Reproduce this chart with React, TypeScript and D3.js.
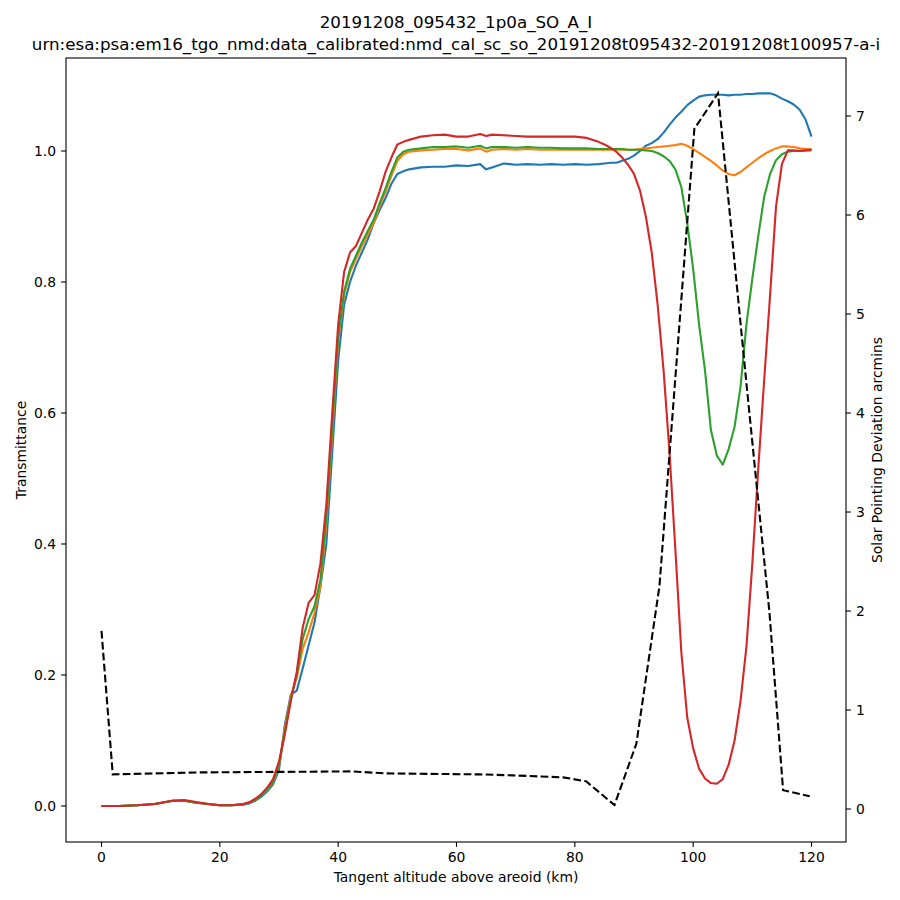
import * as d3 from "d3";
import React from "react";

// tangent altitude grid (km) shared by the four transmittance series
const altitude = [
  0, 3, 6, 9, 12, 14, 16, 18, 20, 22, 24, 25, 26, 27, 28, 29, 30, 31, 32, 33,
  34, 35, 36, 37, 38, 39, 40, 41, 42, 43, 44, 45, 46, 47, 48, 49, 50, 51, 52,
  54, 56, 58, 60, 62, 64, 65, 66, 68, 70, 72, 74, 76, 78, 80, 82, 84, 85, 86,
  87, 88, 89, 90, 91, 92, 93, 94, 95, 96, 97, 98, 99, 100, 101, 102, 103, 104,
  105, 106, 107, 108, 109, 110, 111, 112, 113, 114, 115, 116, 117, 118, 119, 120,
];

const transBlue = [
  0.0, 0.0, 0.001, 0.003, 0.008, 0.008, 0.005, 0.003, 0.001, 0.001, 0.002, 0.004, 0.008, 0.014, 0.022, 0.033,
  0.055, 0.125, 0.17, 0.176, 0.21, 0.245, 0.28, 0.335, 0.4, 0.54, 0.68, 0.765, 0.8, 0.825, 0.845, 0.865, 0.89,
  0.91, 0.928, 0.95, 0.965, 0.969, 0.972,
  0.975, 0.976, 0.976, 0.978, 0.977, 0.98, 0.972, 0.975, 0.981,
  0.979, 0.98, 0.979, 0.98, 0.979, 0.98, 0.979, 0.98,
  0.981, 0.982, 0.982, 0.985, 0.988, 0.993, 1.0, 1.008, 1.012, 1.018,
  1.028, 1.04, 1.051, 1.06, 1.07, 1.077, 1.083, 1.085, 1.086, 1.086,
  1.086, 1.085, 1.086, 1.086, 1.087, 1.087, 1.088, 1.088, 1.088, 1.085,
  1.08, 1.076, 1.071, 1.063, 1.048, 1.022,
];

const transOrange = [
  0.0, 0.0, 0.001, 0.003, 0.008, 0.008, 0.005, 0.003, 0.001, 0.001, 0.003, 0.005, 0.009, 0.016, 0.024, 0.036,
  0.06, 0.12, 0.168, 0.195, 0.24, 0.265, 0.295, 0.335, 0.43, 0.57, 0.71, 0.78, 0.815, 0.835, 0.855, 0.872, 0.89,
  0.915, 0.938, 0.962, 0.985, 0.995, 0.999,
  1.001, 1.002, 1.003, 1.003, 1.001, 1.004, 0.999, 1.002, 1.003,
  1.002, 1.003, 1.002, 1.002, 1.002, 1.002, 1.002, 1.002,
  1.002, 1.002, 1.002, 1.002, 1.002, 1.002, 1.003, 1.004, 1.005, 1.006,
  1.007, 1.008, 1.009, 1.011, 1.008, 1.003, 0.997, 0.991, 0.985, 0.978,
  0.97, 0.965, 0.963, 0.968, 0.975, 0.982, 0.989, 0.995, 1.0, 1.004,
  1.007, 1.007, 1.006, 1.004, 1.003, 1.003,
];

const transGreen = [
  0.0, 0.0, 0.001, 0.003, 0.008, 0.008, 0.005, 0.003, 0.001, 0.001, 0.003, 0.005, 0.009, 0.016, 0.025, 0.037,
  0.062, 0.115, 0.165, 0.2, 0.255, 0.285, 0.305, 0.345, 0.44, 0.58, 0.715, 0.785, 0.82, 0.84, 0.86, 0.878, 0.895,
  0.92, 0.943, 0.968, 0.99, 0.999, 1.002,
  1.004, 1.006, 1.006, 1.007, 1.005, 1.008, 1.004, 1.006, 1.006,
  1.005, 1.006, 1.005, 1.005, 1.004, 1.004, 1.004, 1.003,
  1.003, 1.003, 1.003, 1.003, 1.002, 1.002, 1.002, 1.001, 1.0, 0.997,
  0.992, 0.985, 0.972, 0.945, 0.89, 0.82, 0.735, 0.665, 0.574, 0.535,
  0.521, 0.545, 0.579, 0.64, 0.735, 0.805, 0.87, 0.93, 0.965, 0.986,
  0.995, 0.999, 1.0, 1.0, 1.001, 1.001,
];

const transRed = [
  0.0, 0.0, 0.001, 0.003, 0.008, 0.009, 0.006, 0.003, 0.001, 0.001, 0.003, 0.006, 0.011, 0.018, 0.028, 0.041,
  0.068, 0.11, 0.16, 0.205, 0.272, 0.31, 0.322, 0.37, 0.46, 0.6, 0.735, 0.815, 0.845, 0.855, 0.875, 0.895, 0.912,
  0.938, 0.968, 0.99, 1.01, 1.014, 1.017,
  1.022, 1.024, 1.025, 1.022, 1.022, 1.026, 1.023, 1.025, 1.024,
  1.023, 1.022, 1.022, 1.022, 1.022, 1.022, 1.02, 1.014,
  1.01, 1.005, 0.999, 0.99, 0.979, 0.965, 0.94, 0.9, 0.845, 0.765,
  0.665, 0.54, 0.39, 0.235, 0.135, 0.088, 0.057, 0.042, 0.035, 0.034,
  0.041, 0.063, 0.1, 0.16, 0.243, 0.37, 0.515, 0.65, 0.78, 0.915,
  0.98, 1.001, 1.001, 1.0, 1.001, 1.002,
];

// solar pointing deviation (arcmins), right axis
const pointingAltitude = [0, 1.9, 16.6, 42.4, 48.1, 63.9, 69.5, 78, 81.9, 86.7, 90.4, 94.3, 100.2, 104.2, 109.0, 112.9, 115.2, 119.7];
const pointingDeviation = [1.8, 0.35, 0.37, 0.38, 0.36, 0.35, 0.34, 0.32, 0.28, 0.04, 0.66, 2.25, 6.87, 7.23, 4.3, 1.98, 0.19, 0.13];

const xTicks = [0, 20, 40, 60, 80, 100, 120];
const yTicks = [0.0, 0.2, 0.4, 0.6, 0.8, 1.0];
const y2Ticks = [0, 1, 2, 3, 4, 5, 6, 7];

const seriesList = [
  { values: transBlue, color: "#1f77b4" },
  { values: transOrange, color: "#ff7f0e" },
  { values: transGreen, color: "#2ca02c" },
  { values: transRed, color: "#d62728" },
];

export default function App() {
  const W = 900;
  const H = 900;
  const left = 66;
  const right = 846;
  const top = 58;
  const bottom = 842;
  const font = "DejaVu Sans, sans-serif";

  const x = d3.scaleLinear().domain([-6, 126]).range([left, right + 1]);
  const y = d3.scaleLinear().domain([-0.055, 1.142]).range([bottom, top]);
  const y2 = d3.scaleLinear().domain([-0.333, 7.586]).range([bottom, top]);

  const line = d3
    .line<number>()
    .x((_, i) => x(altitude[i]))
    .y((d) => y(d));

  const pointingLine = d3
    .line<number>()
    .x((_, i) => x(pointingAltitude[i]))
    .y((d) => y2(d));

  return (
    <svg
      width={W}
      height={H}
      style={{ position: "absolute", left: 0, top: 0, background: "#fff" }}
      fontFamily={font}
    >
      <rect width={W} height={H} fill="#fff" />
      <text x={456} y={28} textAnchor="middle" fontSize={16.7}>
        20191208_095432_1p0a_SO_A_I
      </text>
      <text x={456} y={50} textAnchor="middle" fontSize={16.7}>
        urn:esa:psa:em16_tgo_nmd:data_calibrated:nmd_cal_sc_so_20191208t095432-20191208t100957-a-i
      </text>

      <defs>
        <clipPath id="plot">
          <rect x={left} y={top} width={right - left} height={bottom - top} />
        </clipPath>
      </defs>

      <g clipPath="url(#plot)">
        {seriesList.map((s) => (
          <path
            key={s.color}
            d={line(s.values) || ""}
            fill="none"
            stroke={s.color}
            strokeWidth={2.1}
            strokeLinejoin="round"
          />
        ))}
        <path
          d={pointingLine(pointingDeviation) || ""}
          fill="none"
          stroke="#000"
          strokeWidth={2.1}
          strokeDasharray="7.7,3.3"
        />
      </g>

      <rect
        x={left}
        y={top}
        width={right - left}
        height={bottom - top}
        fill="none"
        stroke="#000"
        strokeWidth={1.1}
      />

      {xTicks.map((t) => (
        <g key={"x" + t}>
          <line x1={x(t)} x2={x(t)} y1={bottom} y2={bottom + 4.9} stroke="#000" strokeWidth={1.1} />
          <text x={x(t)} y={862} textAnchor="middle" fontSize={13.9}>
            {t}
          </text>
        </g>
      ))}
      {yTicks.map((t) => (
        <g key={"y" + t}>
          <line x1={left - 4.9} x2={left} y1={y(t)} y2={y(t)} stroke="#000" strokeWidth={1.1} />
          <text x={56} y={y(t)} dy="0.36em" textAnchor="end" fontSize={13.9}>
            {t.toFixed(1)}
          </text>
        </g>
      ))}
      {y2Ticks.map((t) => (
        <g key={"y2" + t}>
          <line x1={right} x2={right + 4.9} y1={y2(t)} y2={y2(t)} stroke="#000" strokeWidth={1.1} />
          <text x={856} y={y2(t)} dy="0.36em" textAnchor="start" fontSize={13.9}>
            {t}
          </text>
        </g>
      ))}

      <text x={456} y={882} textAnchor="middle" fontSize={13.9}>
        Tangent altitude above areoid (km)
      </text>
      <text transform={`translate(26,${(top + bottom) / 2}) rotate(-90)`} textAnchor="middle" fontSize={13.9}>
        Transmittance
      </text>
      <text transform={`translate(882,${(top + bottom) / 2}) rotate(-90)`} textAnchor="middle" fontSize={13.9}>
        Solar Pointing Deviation arcmins
      </text>
    </svg>
  );
}
